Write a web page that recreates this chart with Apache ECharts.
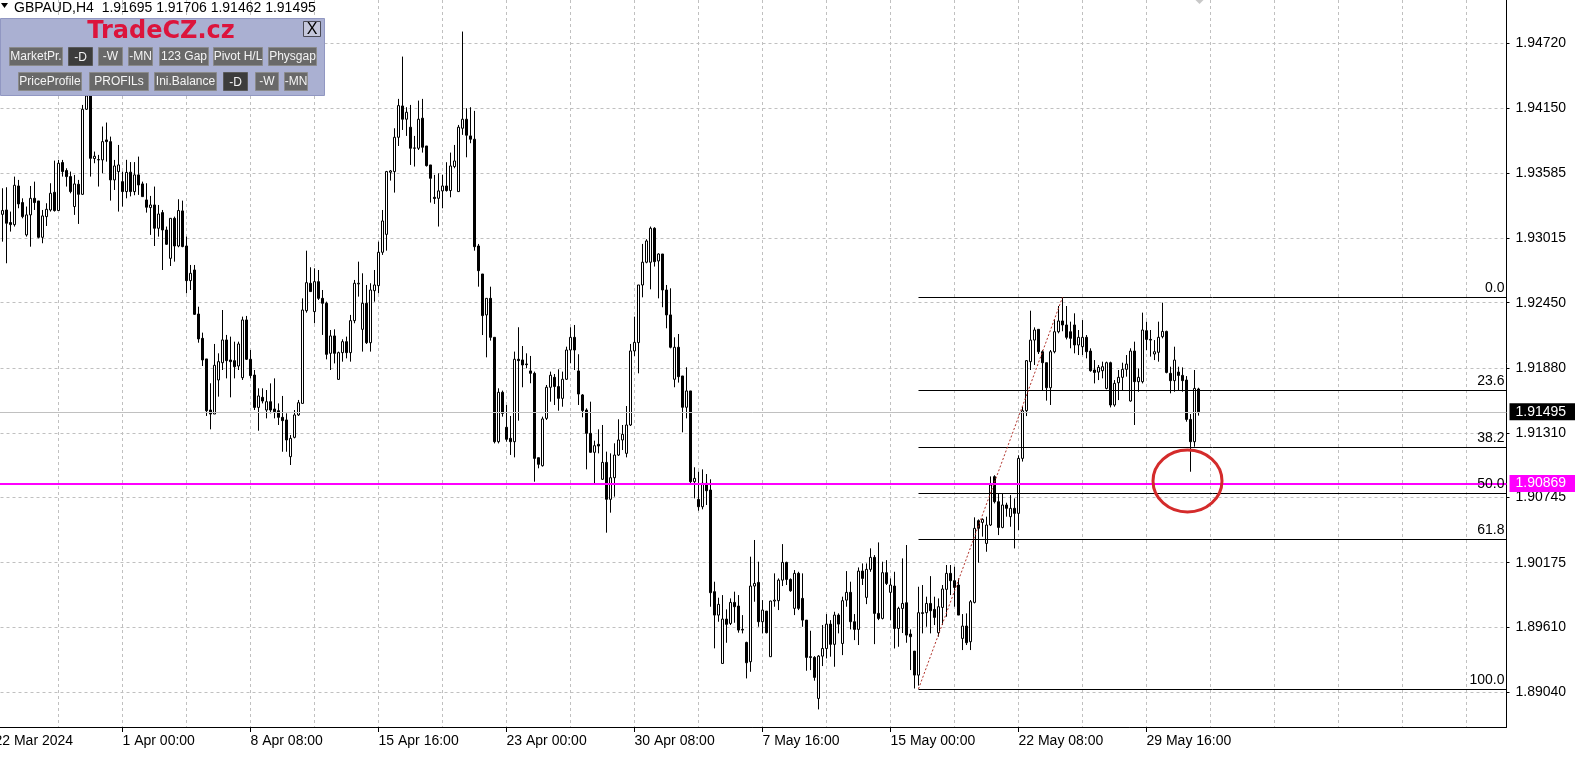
<!DOCTYPE html>
<html>
<head>
<meta charset="utf-8">
<script src="https://cdn.jsdelivr.net/npm/echarts@6/dist/echarts.min.js"></script>
<style>html,body{margin:0;padding:0;background:#fff;overflow:hidden}#c{width:1575px;height:763px}</style>
</head>
<body>
<div id="c"></div>
<script>
// ---------- chart values ----------
const symbolTitle = 'GBPAUD,H4';
const headerOHLC = ['1.91695', '1.91706', '1.91462', '1.91495'];
const xTickLabels = ['22 Mar 2024', '1 Apr 00:00', '8 Apr 08:00', '15 Apr 16:00', '23 Apr 00:00',
  '30 Apr 08:00', '7 May 16:00', '15 May 00:00', '22 May 08:00', '29 May 16:00'];
const yTickValues = [1.94720, 1.94150, 1.93585, 1.93015, 1.92450, 1.91880, 1.91310, 1.90745, 1.90175, 1.89610, 1.89040];
const bidPrice = 1.91495;
const levelPrice = 1.90869;
const fibLevels = [['0.0', 1.92497], ['23.6', 1.91688], ['38.2', 1.91188], ['50.0', 1.90784], ['61.8', 1.90380], ['100.0', 1.89071]];
const fibStartBar = 231, fibEndBar = 267, fibLow = 1.89071, fibHigh = 1.92497;
const circleBar = 298, circlePrice = 1.90890;

// H4 bars, one array per trading week, rows = [open, high, low, close]
const wk0325 = [
[1.93223,1.93451,1.92984,1.93256],[1.93261,1.93460,1.92795,1.93145],[1.93151,1.93247,1.93072,1.93133],
[1.93133,1.93553,1.93116,1.93477],[1.93471,1.93524,1.93276,1.93314],[1.93326,1.93363,1.93188,1.93203],
[1.93043,1.93291,1.93028,1.93218],[1.93218,1.93471,1.92940,1.93363],[1.93363,1.93509,1.93261,1.93326],
[1.93340,1.93340,1.93013,1.93022],[1.93022,1.93261,1.92970,1.93209],[1.93203,1.93320,1.93121,1.93267],
[1.93261,1.93495,1.93247,1.93407],[1.93416,1.93693,1.93247,1.93256],[1.93256,1.93699,1.93256,1.93670],
[1.93676,1.93699,1.93553,1.93597],[1.93606,1.93626,1.93466,1.93553],[1.93553,1.93597,1.93407,1.93422],
[1.93291,1.93568,1.93218,1.93489],[1.93486,1.93524,1.93139,1.93398],[1.93398,1.94180,1.93393,1.94142],
[1.94142,1.94400,1.94136,1.94259],[1.94268,1.94300,1.93553,1.93713],[1.93711,1.93772,1.93670,1.93731],
[1.93699,1.93743,1.93466,1.93702],[1.93699,1.93991,1.93582,1.93859],[1.93874,1.94026,1.93684,1.93859],
[1.93859,1.93903,1.93343,1.93524],[1.93524,1.93699,1.93436,1.93646],[1.93597,1.93830,1.93247,1.93655]];
const wk0401 = [
[1.93509,1.93597,1.93291,1.93422],[1.93422,1.93700,1.93363,1.93590],[1.93592,1.93680,1.93380,1.93422],
[1.93422,1.93680,1.93390,1.93568],[1.93568,1.93728,1.93393,1.93480],[1.93489,1.93509,1.93378,1.93378],
[1.93349,1.93495,1.93238,1.93285],[1.93282,1.93384,1.93043,1.93305],[1.93305,1.93466,1.92946,1.93101],
[1.93101,1.93305,1.93028,1.93226],[1.93238,1.93261,1.92736,1.93086],[1.93086,1.93116,1.92955,1.92961],
[1.92838,1.93188,1.92771,1.93188],[1.93188,1.93203,1.92809,1.92946],[1.92946,1.93355,1.92935,1.93256],
[1.93253,1.93343,1.92935,1.92941],[1.92946,1.93028,1.92532,1.92643],[1.92643,1.92780,1.92561,1.92707],
[1.92736,1.92780,1.92343,1.92348],[1.92351,1.92415,1.92100,1.92133],[1.92138,1.92188,1.91896,1.91949],
[1.91958,1.91958,1.91459,1.91505],[1.91511,1.91745,1.91342,1.91476],[1.91476,1.92089,1.91476,1.91902],
[1.91774,1.92007,1.91628,1.91934],[1.91925,1.92386,1.91861,1.92124],[1.92124,1.92168,1.91788,1.91943],
[1.91949,1.92153,1.91622,1.91934],[1.91943,1.92109,1.91788,1.91890],[1.91896,1.92109,1.91861,1.92089]];
const wk0408 = [
[1.91794,1.92328,1.91774,1.92299],[1.92299,1.92334,1.91949,1.91955],[1.91955,1.92036,1.91788,1.91812],
[1.91817,1.91861,1.91511,1.91534],[1.91534,1.91701,1.91330,1.91634],[1.91622,1.91701,1.91569,1.91590],
[1.91511,1.91686,1.91438,1.91584],[1.91584,1.91744,1.91482,1.91511],[1.91520,1.91788,1.91438,1.91496],
[1.91505,1.91569,1.91380,1.91447],[1.91447,1.91634,1.91146,1.91418],[1.91424,1.91482,1.91146,1.91249],
[1.91103,1.91292,1.91030,1.91263],[1.91272,1.91511,1.91263,1.91468],[1.91468,1.91599,1.91459,1.91575],
[1.91569,1.92488,1.91569,1.92386],[1.92380,1.92905,1.92363,1.92625],[1.92620,1.92760,1.92547,1.92547],
[1.92372,1.92751,1.92270,1.92634],[1.92634,1.92736,1.92474,1.92488],[1.92488,1.92561,1.92168,1.92445],
[1.92445,1.92459,1.91954,1.91998],[1.92007,1.92211,1.91861,1.92159],[1.92159,1.92217,1.91919,1.92007],
[1.91779,1.92022,1.91779,1.92013],[1.92013,1.92130,1.91934,1.92109],[1.92109,1.92153,1.91963,1.92013],
[1.92013,1.92343,1.91934,1.92293],[1.92293,1.92649,1.92270,1.92620],[1.92614,1.92809,1.92503,1.92620]];
const wk0415 = [
[1.92217,1.92707,1.92022,1.92445],[1.92445,1.92605,1.92089,1.92100],[1.92100,1.92620,1.92022,1.92561],
[1.92555,1.92736,1.92459,1.92605],[1.92599,1.92984,1.92532,1.92891],[1.92891,1.93261,1.92868,1.93165],
[1.93048,1.93603,1.92905,1.93597],[1.93591,1.93611,1.93518,1.93603],[1.93597,1.93976,1.93413,1.93897],
[1.93897,1.94233,1.93821,1.94174],[1.94171,1.94603,1.93961,1.94055],[1.94055,1.94160,1.93909,1.94116],
[1.93985,1.94180,1.93655,1.93801],[1.93801,1.93909,1.93641,1.93804],[1.93801,1.94218,1.93786,1.94055],
[1.94064,1.94233,1.93763,1.93810],[1.93821,1.93821,1.93641,1.93649],[1.93655,1.93655,1.93326,1.93538],
[1.93372,1.93568,1.93314,1.93361],[1.93363,1.93582,1.93116,1.93428],[1.93428,1.93568,1.93276,1.93471],
[1.93471,1.93679,1.93422,1.93431],[1.93431,1.93763,1.93372,1.93646],[1.93641,1.93830,1.93626,1.93690],
[1.93422,1.94005,1.93422,1.93985],[1.93976,1.94822,1.93918,1.94055],[1.94055,1.94151,1.93722,1.93915],
[1.93909,1.94160,1.93845,1.93880],[1.93880,1.94128,1.92905,1.92940],[1.92946,1.92964,1.92590,1.92730]];
const wk0422 = [
[1.92701,1.92701,1.92167,1.92337],[1.92343,1.92488,1.91972,1.92488],[1.92488,1.92590,1.92118,1.92147],
[1.92147,1.92147,1.91219,1.91234],[1.91234,1.91701,1.91219,1.91666],[1.91666,1.91681,1.91453,1.91482],
[1.91360,1.91555,1.91234,1.91255],[1.91263,1.91459,1.91118,1.91234],[1.91234,1.92022,1.91097,1.91955],
[1.91955,1.92235,1.91418,1.91943],[1.91949,1.92071,1.91710,1.91905],[1.91914,1.92007,1.91876,1.91908],
[1.91853,1.91984,1.91745,1.91832],[1.91832,1.91847,1.90884,1.91088],[1.91094,1.91094,1.91001,1.91036],
[1.91024,1.91453,1.91016,1.91433],[1.91438,1.91730,1.91424,1.91710],[1.91710,1.91847,1.91584,1.91815],
[1.91797,1.91826,1.91555,1.91716],[1.91716,1.91867,1.91505,1.91613],[1.91613,1.91847,1.91540,1.91780],
[1.91780,1.92065,1.91774,1.92036],[1.92036,1.92235,1.91920,1.92147],[1.92147,1.92255,1.91861,1.92036],
[1.91853,1.91999,1.91555,1.91651],[1.91643,1.91651,1.91447,1.91506],[1.91511,1.91526,1.90992,1.91307],
[1.91307,1.91584,1.91138,1.91141],[1.91141,1.91243,1.90855,1.91199],[1.91211,1.91342,1.91132,1.91196]];
const wk0429 = [
[1.90905,1.91380,1.90899,1.91053],[1.91053,1.91147,1.90438,1.90730],[1.90730,1.91132,1.90613,1.90919],
[1.90919,1.91220,1.90753,1.91117],[1.91117,1.91430,1.91109,1.91249],[1.91249,1.91380,1.91161,1.91298],
[1.91132,1.91546,1.91097,1.91380],[1.91380,1.92089,1.91371,1.92028],[1.92028,1.92328,1.91984,1.92103],
[1.92101,1.92605,1.91832,1.92605],[1.92605,1.92964,1.92497,1.92804],[1.92804,1.93005,1.92795,1.92990],
[1.92804,1.93116,1.92567,1.93101],[1.93101,1.93110,1.92766,1.92809],[1.92815,1.92882,1.92488,1.92876],
[1.92876,1.92876,1.92410,1.92561],[1.92561,1.92605,1.92226,1.92343],[1.92343,1.92576,1.92051,1.92060],
[1.91780,1.92147,1.91710,1.92060],[1.92060,1.92176,1.91751,1.91803],[1.91809,1.91809,1.91316,1.91535],
[1.91535,1.91885,1.91438,1.91678],[1.91678,1.91678,1.90864,1.90884],[1.90884,1.91010,1.90738,1.90913],
[1.90729,1.90972,1.90630,1.90665],[1.90665,1.90992,1.90642,1.90870],[1.90870,1.90951,1.90680,1.90805],
[1.90811,1.90905,1.89790,1.89913],[1.89922,1.90009,1.89426,1.89717],[1.89717,1.89869,1.89659,1.89811]];
const wk0506 = [
[1.89294,1.89892,1.89294,1.89682],[1.89682,1.89767,1.89475,1.89636],[1.89644,1.89863,1.89630,1.89828],
[1.89828,1.89922,1.89650,1.89790],[1.89796,1.89892,1.89563,1.89586],[1.89592,1.89717,1.89557,1.89586],
[1.89478,1.89484,1.89163,1.89300],[1.89309,1.90228,1.89221,1.89971],[1.89971,1.90374,1.89834,1.89994],
[1.90003,1.90184,1.89615,1.89659],[1.89659,1.89848,1.89557,1.89761],[1.89752,1.89752,1.89557,1.89563],
[1.89353,1.89843,1.89353,1.89840],[1.89840,1.90082,1.89790,1.89848],[1.89843,1.90038,1.89761,1.90023],
[1.90023,1.90338,1.89971,1.90178],[1.90178,1.90184,1.89980,1.90029],[1.90029,1.90038,1.89921,1.89930],
[1.89776,1.90111,1.89717,1.90082],[1.90082,1.90096,1.89761,1.89776],[1.89863,1.90082,1.89615,1.89673],
[1.89673,1.89673,1.89230,1.89347],[1.89353,1.89580,1.89236,1.89347],[1.89347,1.89358,1.89143,1.89172],
[1.88988,1.89367,1.88892,1.89358],[1.89358,1.89630,1.89271,1.89425],[1.89425,1.89726,1.89338,1.89638],
[1.89638,1.89673,1.89353,1.89461],[1.89461,1.89746,1.89265,1.89717],[1.89717,1.89732,1.89557,1.89638]];
const wk0513 = [
[1.89469,1.89878,1.89367,1.89843],[1.89848,1.90102,1.89790,1.89916],[1.89916,1.90009,1.89592,1.89659],
[1.89659,1.89726,1.89498,1.89592],[1.89592,1.90134,1.89455,1.90102],[1.90102,1.90169,1.89980,1.90038],
[1.89872,1.90169,1.89813,1.90117],[1.90117,1.90301,1.90096,1.90222],[1.90222,1.90242,1.89463,1.89732],
[1.89732,1.90353,1.89673,1.89688],[1.89688,1.90184,1.89679,1.90088],[1.90088,1.90198,1.89980,1.89994],
[1.89916,1.90038,1.89673,1.89980],[1.89971,1.90096,1.89425,1.89600],[1.89600,1.89790,1.89440,1.89776],
[1.89775,1.90213,1.89560,1.89819],[1.89825,1.90330,1.89475,1.89542],[1.89551,1.89592,1.89236,1.89528],
[1.89402,1.89402,1.89075,1.89192],[1.89192,1.89965,1.89100,1.89738],[1.89738,1.89980,1.89557,1.89732],
[1.89738,1.89878,1.89615,1.89819],[1.89819,1.90058,1.89557,1.89755],[1.89767,1.89878,1.89630,1.89697],
[1.89563,1.89863,1.89528,1.89790],[1.89784,1.89980,1.89630,1.89945],[1.89942,1.90155,1.89703,1.90082],
[1.90082,1.90155,1.89892,1.90018],[1.90018,1.90140,1.89790,1.89959],[1.89980,1.90038,1.89717,1.89717]];
const wk0520 = [
[1.89513,1.89726,1.89411,1.89621],[1.89621,1.89732,1.89455,1.89475],[1.89484,1.89849,1.89411,1.89834],
[1.89828,1.90572,1.89819,1.90476],[1.90543,1.90554,1.90175,1.90476],[1.90528,1.90563,1.90403,1.90554],
[1.90344,1.90578,1.90271,1.90505],[1.90505,1.90930,1.90496,1.90855],[1.90928,1.90940,1.90694,1.90709],
[1.90709,1.90782,1.90417,1.90484],[1.90484,1.90782,1.90476,1.90680],[1.90680,1.90700,1.90578,1.90651],
[1.90578,1.90767,1.90490,1.90651],[1.90651,1.90738,1.90300,1.90607],[1.90607,1.91115,1.90461,1.91088],
[1.91088,1.91540,1.91060,1.91505],[1.91505,1.91948,1.91458,1.91943],[1.91934,1.92380,1.91861,1.92123],
[1.92123,1.92234,1.91905,1.92211],[1.92217,1.92217,1.92001,1.92021],[1.92021,1.92036,1.91686,1.91925],
[1.91925,1.91925,1.91593,1.91706],[1.91706,1.92036,1.91555,1.92021],[1.92021,1.92304,1.92007,1.92196],
[1.92196,1.92421,1.92182,1.92290],[1.92290,1.92497,1.92200,1.92255],[1.92255,1.92421,1.92129,1.92147],
[1.92196,1.92284,1.92051,1.92138],[1.92255,1.92357,1.92007,1.92080],[1.92080,1.92211,1.91992,1.92147]];
const wk0527 = [
[1.92065,1.92298,1.91992,1.92147],[1.92147,1.92167,1.91963,1.92021],[1.92027,1.92051,1.91846,1.91855],
[1.91861,1.91948,1.91744,1.91840],[1.91843,1.91905,1.91773,1.91884],[1.91855,1.91934,1.91788,1.91890],
[1.91700,1.91934,1.91692,1.91925],[1.91925,1.91934,1.91534,1.91555],[1.91555,1.91773,1.91540,1.91744],
[1.91750,1.91861,1.91598,1.91797],[1.91797,1.91925,1.91686,1.91867],[1.91867,1.91992,1.91803,1.91913],
[1.91590,1.92051,1.91584,1.92027],[1.92027,1.92109,1.91380,1.91759],[1.91759,1.91875,1.91671,1.91797],
[1.91759,1.92363,1.91744,1.92211],[1.92205,1.92284,1.92036,1.92129],[1.92129,1.92211,1.91978,1.92123],
[1.92001,1.92123,1.91948,1.92021],[1.92016,1.92284,1.91934,1.92147],[1.92153,1.92450,1.92138,1.92199],
[1.92199,1.92205,1.91832,1.91840],[1.91832,1.91890,1.91657,1.91768],[1.91768,1.92065,1.91671,1.91948],
[1.91843,1.91890,1.91686,1.91814],[1.91814,1.91884,1.91671,1.91768],[1.91773,1.91808,1.91409,1.91429],
[1.91429,1.91476,1.90971,1.91234],[1.91234,1.91861,1.91190,1.91700],[1.91695,1.91706,1.91462,1.91495]];

// ---------- build categories (H4 slots, Mon-Fri) ----------
const totalSlots = 379;           // visible slots incl. empty right margin
const leadingSlots = 2;           // 22 Mar 16:00 / 20:00 lie left of the visible area
const monthNames = ['Jan','Feb','Mar','Apr','May','Jun','Jul'];
const categories = [];
{
  let t = Date.UTC(2024, 2, 22, 16);
  while (categories.length < totalSlots) {
    const d = new Date(t);
    const wd = d.getUTCDay();
    if (wd !== 0 && wd !== 6) {
      categories.push(d.getUTCDate() + ' ' + monthNames[d.getUTCMonth()] + ' ' + String(d.getUTCHours()).padStart(2, '0') + ':00');
    }
    t += 4 * 3600 * 1000;
  }
}
const weeks = [wk0325, wk0401, wk0408, wk0415, wk0422, wk0429, wk0506, wk0513, wk0520, wk0527];
const candleData = [];
for (let i = 0; i < leadingSlots; i++) candleData.push(['-', '-', '-', '-']);
weeks.forEach(w => w.forEach(r => candleData.push([r[0], r[3], r[2], r[1]])));
const lastBar = candleData.length - 1;

const isLabelIdx = (i) => i % 32 === 0 && (i / 32) < xTickLabels.length;
const isGridIdx = (i) => i % 16 === 0;

const FONT = 'Liberation Sans';
const chart = echarts.init(document.getElementById('c'), null, { renderer: 'canvas', width: 1575, height: 763 });

const fibMarks = fibLevels.map(([txt, v]) => [
  { coord: [categories[fibStartBar], v], lineStyle: { color: '#000', width: 1, type: 'solid' },
    label: { show: true, position: 'insideEndTop', formatter: txt, color: '#000', fontFamily: FONT, fontSize: 14, distance: 2 } },
  { coord: [categories[totalSlots - 1], v] }
]);

const priceBox = (txt, bg) => ({ show: true, position: 'end', distance: 3, formatter: txt, color: '#fff',
  backgroundColor: bg, padding: [2, 10, 1, 6], lineHeight: 14, fontFamily: FONT, fontSize: 14 });

const option = {
  animation: false,
  backgroundColor: '#ffffff',
  grid: { left: -5.5, right: 68.5, top: 0, bottom: 36, containLabel: false, outerBoundsMode: 'none' },
  xAxis: {
    type: 'category', data: categories, boundaryGap: false,
    axisLine: { show: true, onZero: false, lineStyle: { color: '#000', width: 1 } },
    axisTick: { show: true, interval: isLabelIdx, length: 5, lineStyle: { color: '#000' } },
    axisLabel: { show: true, interval: isLabelIdx, formatter: (v, i) => xTickLabels[i / 32] || '',
      align: 'left', color: '#000', fontFamily: FONT, fontSize: 14, margin: 7 },
    splitLine: { show: true, interval: isGridIdx, lineStyle: { color: '#c0c0c0', type: [3, 3], width: 1 } }
  },
  yAxis: {
    type: 'value', position: 'right', min: 1.88738, max: 1.95098, scale: true,
    axisLine: { show: true, lineStyle: { color: '#000', width: 1 } },
    axisTick: { show: true, customValues: yTickValues, length: 3, lineStyle: { color: '#000' } },
    axisLabel: { show: true, customValues: yTickValues, formatter: v => Number(v).toFixed(5),
      color: '#000', fontFamily: FONT, fontSize: 14, margin: 9 },
    splitLine: { show: true, lineStyle: { color: '#c0c0c0', type: [3, 3], width: 1 } }
  },
  series: [
    {
      type: 'line', data: [], z: 1, silent: true,
      markLine: {
        symbol: ['none', 'none'], silent: true, animation: false, precision: 5,
        data: [{ yAxis: bidPrice, lineStyle: { color: '#c0c0c0', type: 'solid', width: 1 },
          label: priceBox(bidPrice.toFixed(5), '#000') }]
      }
    },
    {
      type: 'candlestick', data: candleData, z: 3, barWidth: 2, silent: true,
      itemStyle: { color: '#ffffff', color0: '#000000', borderColor: '#000000', borderColor0: '#000000', borderWidth: 1 },
      markLine: {
        symbol: ['none', 'none'], silent: true, animation: false, precision: 5,
        data: [
          { yAxis: levelPrice, lineStyle: { color: '#ff00ff', type: 'solid', width: 2 },
            label: priceBox(levelPrice.toFixed(5), '#ff00ff') },
          ...fibMarks,
          [
            { coord: [categories[fibStartBar], fibLow], lineStyle: { color: '#b03028', type: [2, 2], width: 1 }, label: { show: false } },
            { coord: [categories[fibEndBar], fibHigh] }
          ]
        ]
      }
    }
  ]
};
chart.setOption(option);

// ---------- overlay: title, TradeCZ panel, annotation ellipse ----------
const g = [];
const Z = 100;
g.push({ type: 'polygon', z: Z, shape: { points: [[1, 3], [8, 3], [4.5, 8]] }, style: { fill: '#000' } });
g.push({ type: 'text', z: Z, style: { text: symbolTitle + '  ' + headerOHLC.join(' '), x: 14, y: 1,
  font: '14px "' + FONT + '"', fill: '#000', textAlign: 'left', textVerticalAlign: 'top', align: 'left', verticalAlign: 'top' } });
g.push({ type: 'rect', z: Z, shape: { x: 0.5, y: 18.5, width: 324, height: 77 }, style: { fill: '#aab0d2', stroke: '#9197c2', lineWidth: 1 } });
g.push({ type: 'text', z: Z, style: { text: 'TradeCZ.cz', x: 161, y: 32, font: 'bold 24px "DejaVu Sans"', fill: '#dc143c',
  textAlign: 'center', textVerticalAlign: 'middle', align: 'center', verticalAlign: 'middle' } });
g.push({ type: 'rect', z: Z, shape: { x: 303.5, y: 21.5, width: 17, height: 15 }, style: { fill: '#c4c7dc', stroke: '#4a4a55', lineWidth: 1 } });
g.push({ type: 'text', z: Z, style: { text: 'X', x: 312, y: 29.5, font: '16px "' + FONT + '"', fill: '#000',
  textAlign: 'center', textVerticalAlign: 'middle', align: 'center', verticalAlign: 'middle' } });
const buttons = [
  ['MarketPr.', 9.5, 47.5, 53, false], ['-D', 68.5, 47.5, 24, true], ['-W', 98.5, 47.5, 24, false], ['-MN', 128.5, 47.5, 24, false],
  ['123 Gap', 159.5, 47.5, 49, false], ['Pivot H/L', 213.5, 47.5, 49, false], ['Physgap', 268.5, 47.5, 48, false],
  ['PriceProfile', 18.5, 72.5, 63, false], ['PROFILs', 89.5, 72.5, 59, false], ['Ini.Balance', 154.5, 72.5, 62, false],
  ['-D', 223.5, 72.5, 24, true], ['-W', 255.5, 72.5, 23, false], ['-MN', 284.5, 72.5, 23, false]
];
buttons.forEach(([t, x, y, w, dark]) => {
  g.push({ type: 'rect', z: Z, shape: { x, y, width: w, height: 18 }, style: { fill: dark ? '#3c3c3c' : '#696969', stroke: dark ? '#5a5a5a' : '#8a8a8a', lineWidth: 1 } });
  g.push({ type: 'text', z: Z + 1, style: { text: t, x: x + w / 2, y: y + 9 + (dark ? 1 : 0), font: '12px "' + FONT + '"', fill: '#f4f4f4',
    textAlign: 'center', textVerticalAlign: 'middle', align: 'center', verticalAlign: 'middle' } });
});
const cpt = chart.convertToPixel({ xAxisIndex: 0, yAxisIndex: 0 }, [circleBar, circlePrice]);
g.push({ type: 'ellipse', z: Z, shape: { cx: cpt[0] + 1, cy: cpt[1], rx: 34.5, ry: 31 }, style: { fill: 'none', stroke: '#d42b2b', lineWidth: 3 } });
const dpt = chart.convertToPixel({ xAxisIndex: 0, yAxisIndex: 0 }, [lastBar, 1.95098]);
g.push({ type: 'polygon', z: Z, shape: { points: [[dpt[0] - 3, 0], [dpt[0] + 1, 4], [dpt[0] + 5, 0]] }, style: { fill: '#c8c8c8' } });
chart.setOption({ graphic: { elements: g } });
</script>
</body>
</html>
